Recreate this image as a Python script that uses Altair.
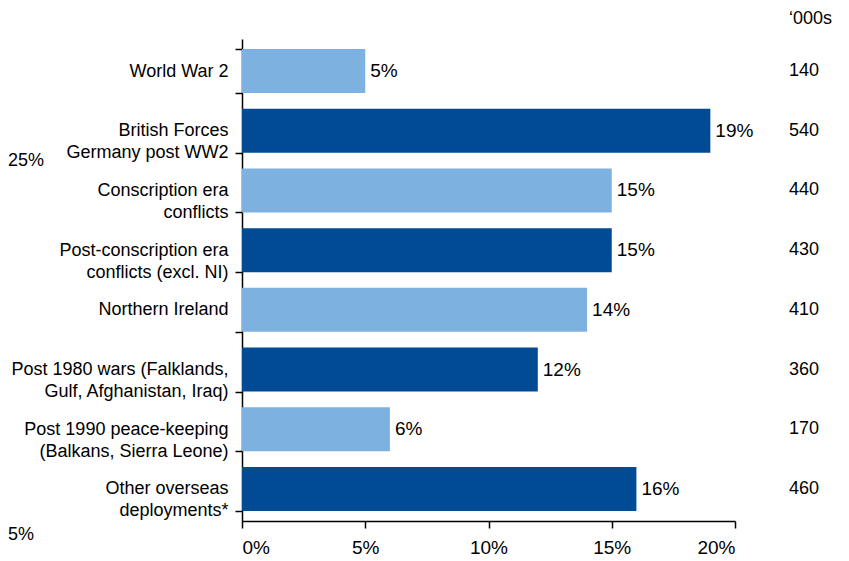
import altair as alt
import pandas as pd

categories = [
    "World War 2",
    "British Forces|Germany post WW2",
    "Conscription era|conflicts",
    "Post-conscription era|conflicts (excl. NI)",
    "Northern Ireland",
    "Post 1980 wars (Falklands,|Gulf, Afghanistan, Iraq)",
    "Post 1990 peace-keeping|(Balkans, Sierra Leone)",
    "Other overseas|deployments*",
]
shares = [5, 19, 15, 15, 14, 12, 6, 16]
thousands = [140, 540, 440, 430, 410, 360, 170, 460]
x_ticks = [0, 5, 10, 15, 20]
units_label = "\u2018000s"
edge_texts = ["25%", "5%"]

FONT = "Liberation Sans"
NUM_FONT = "Liberation Sans"
LIGHT = "#7DB2E0"
DARK = "#004B93"

df = pd.DataFrame({
    "category": categories,
    "share": shares,
    "thousands": thousands,
    "shade": ["light" if i % 2 == 0 else "dark" for i in range(len(categories))],
})
df["share_label"] = df["share"].astype(str) + "%"

y_enc = alt.Y(
    "category:N",
    sort=categories,
    scale=alt.Scale(paddingInner=0.2625, paddingOuter=0.168),
    axis=alt.Axis(
        title=None,
        labelExpr="split(datum.label, '|')",
        labelFont=FONT,
        labelFontSize=18,
        labelColor="black",
        labelLineHeight=22,
        labelPadding=7,
        labelLimit=400,
        tickBand="extent",
        tickSize=7,
        tickColor="black",
        tickWidth=1.5,
        domainColor="black",
        domainWidth=1.5,
    ),
)

x_enc = alt.X(
    "share:Q",
    scale=alt.Scale(domain=[0, 20], nice=False),
    axis=alt.Axis(
        title=None,
        values=x_ticks,
        labelExpr="datum.value + '%'",
        grid=False,
        tickSize=7,
        tickColor="black",
        tickWidth=1.5,
        domainColor="black",
        domainWidth=1.5,
        labelFont=NUM_FONT,
        labelFontSize=19,
        labelColor="black",
        labelPadding=10,
    ),
)

base = alt.Chart(df)

bars = base.mark_bar().encode(
    y=y_enc,
    x=x_enc,
    color=alt.Color("shade:N", scale=alt.Scale(domain=["light", "dark"], range=[LIGHT, DARK]), legend=None),
)

values = base.mark_text(align="left", baseline="middle", dx=5, font=NUM_FONT, fontSize=19, color="black").encode(
    y=alt.Y("category:N", sort=categories),
    x="share:Q",
    text="share_label:N",
)

right_col = base.mark_text(align="left", baseline="middle", font=NUM_FONT, fontSize=18, color="black").encode(
    y=alt.Y("category:N", sort=categories),
    x=alt.value(547),
    text="thousands:Q",
)

header = alt.Chart(pd.DataFrame({"t": [units_label]})).mark_text(
    align="left", baseline="alphabetic", font=NUM_FONT, fontSize=18, color="black"
).encode(x=alt.value(547), y=alt.value(-15), text="t:N")

edge1 = alt.Chart(pd.DataFrame({"t": [edge_texts[0]]})).mark_text(
    align="left", baseline="middle", font=NUM_FONT, fontSize=18, color="black"
).encode(x=alt.value(-234), y=alt.value(122), text="t:N")

edge2 = alt.Chart(pd.DataFrame({"t": [edge_texts[1]]})).mark_text(
    align="left", baseline="middle", font=NUM_FONT, fontSize=18, color="black"
).encode(x=alt.value(-234), y=alt.value(496), text="t:N")

chart = alt.layer(bars, values, right_col, header, edge1, edge2).properties(
    width=493,
    height=482,
    autosize=alt.AutoSizeParams(type="none"),
    padding={"left": 234, "top": 31, "right": 106, "bottom": 60},
).configure_view(stroke=None)

chart.save("out.html", embed_options={"renderer": "svg", "actions": False})
